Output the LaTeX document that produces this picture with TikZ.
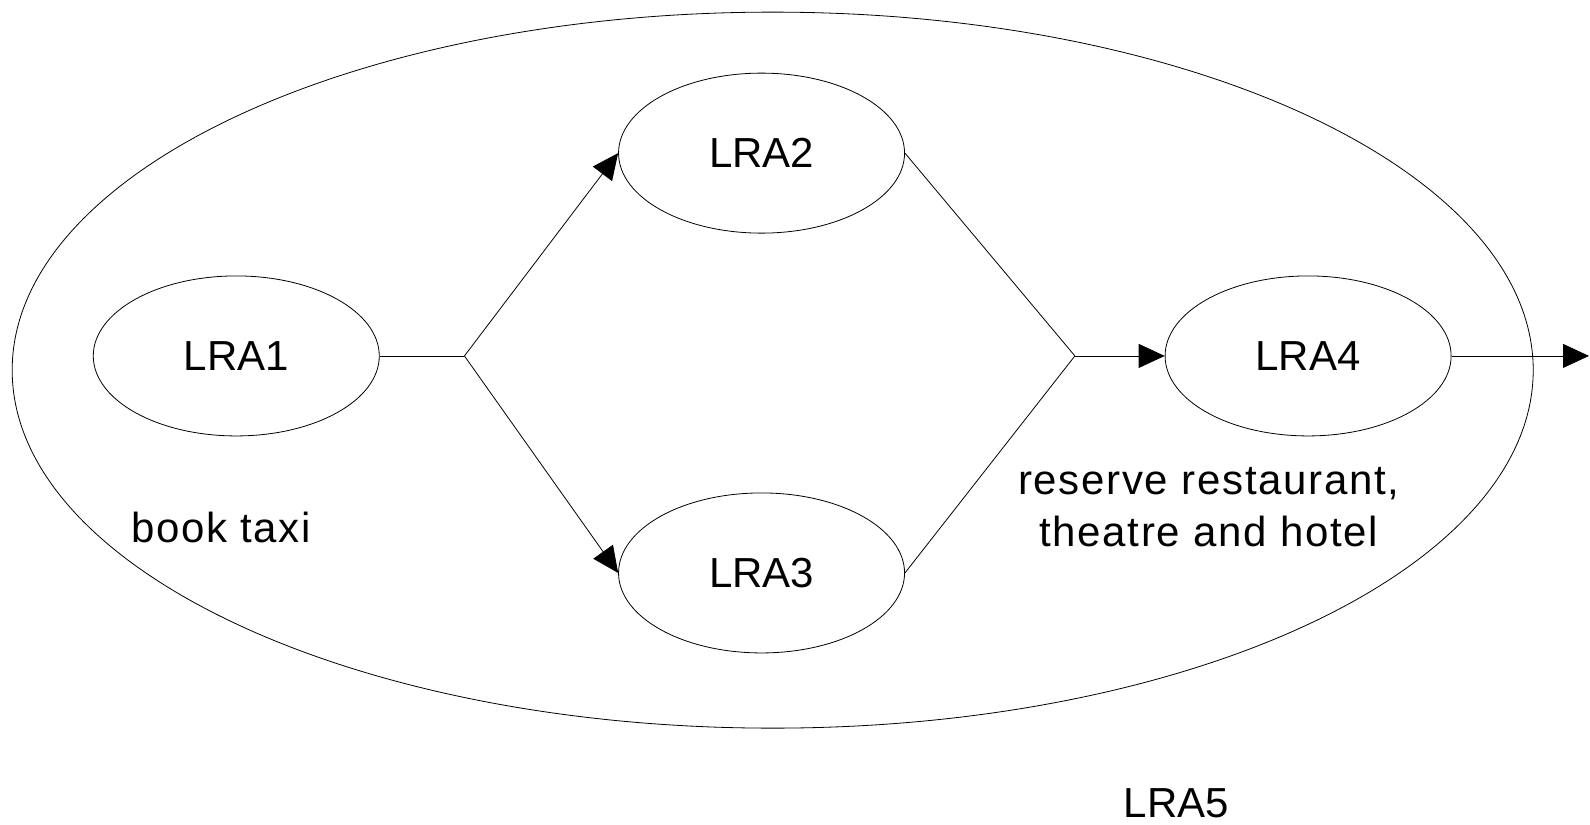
\documentclass[tikz,border=0pt]{standalone}
\usepackage{fontspec}
\setmainfont{Liberation Sans}
\newfontfamily\widefont[LetterSpace=4]{Liberation Sans}
\usetikzlibrary{shapes.geometric,arrows.meta}
\begin{document}
\begin{tikzpicture}[x=1.014pt,y=-1.014pt,
  lra/.style={draw,ellipse,line width=0.8pt,minimum width=286pt,minimum height=160pt,inner sep=0pt,font=\fontsize{42}{50}\selectfont},
  outer/.style={draw,ellipse,line width=0.8pt,minimum width=1521pt,minimum height=716pt,inner sep=0pt},
  lbl/.style={font=\widefont\fontsize{42}{52}\selectfont,align=center,inner sep=0pt},
  conn/.style={line width=0.8pt},
  arr/.style={line width=0.8pt,-{Triangle[length=26pt,width=24pt]}}]
\useasboundingbox (0,0) rectangle (1568,813);
\fill[white] (0,0) rectangle (1568,813);
\node[outer] (lra5) at (762,365) {};
\node[lra] (lra1) at (233,351) {LRA1};
\node[lra] (lra2) at (751,151) {LRA2};
\node[lra] (lra3) at (751,565) {LRA3};
\node[lra] (lra4) at (1290,351) {LRA4};
\coordinate (j1) at (458,351);
\coordinate (j2) at (1060,351);
\coordinate (out) at (1567,351);
\draw[conn] (lra1.east) -- (j1);
\draw[arr] (j1) -- (lra2.west);
\draw[arr] (j1) -- (lra3.west);
\draw[conn] (lra2.east) -- (j2);
\draw[conn] (lra3.east) -- (j2);
\draw[arr] (j2) -- (lra4.west);
\draw[arr] (lra4.east) -- (out);
\node[lbl] (t1) at (218,520) {book taxi};
\node[lbl] (t2) at (1192,500) {reserve restaurant,\\theatre and hotel};
\node[font=\fontsize{42}{50}\selectfont,inner sep=0pt] (t5) at (1160,792) {LRA5};
\end{tikzpicture}
\end{document}
